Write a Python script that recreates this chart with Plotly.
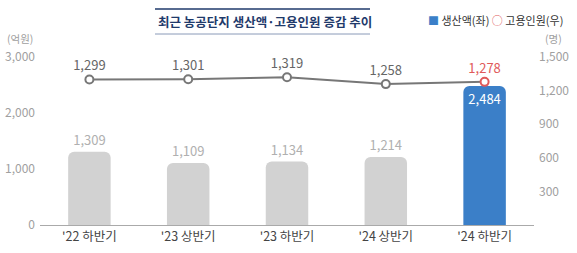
import plotly.graph_objects as go

categories = ["'22 하반기", "'23 상반기", "'23 하반기", "'24 상반기", "'24 하반기"]
production = [1309, 1109, 1134, 1214, 2484]   # 생산액 (억원)
employment = [1299, 1301, 1319, 1258, 1278]   # 고용인원 (명)

bar_colors = ["#d2d2d2"] * 4 + ["#3b7fc8"]
bar_text_pos = ["outside"] * 4 + ["inside"]
bar_text_col = ["#b0b0b0"] * 4 + ["#ffffff"]
mk_line_col = ["#777777"] * 4 + ["#e05a5a"]
line_text_col = ["#666666"] * 4 + ["#e05a5a"]

FONT = "Noto Sans CJK KR"
L, R, T, B = 40, 43, 57, 28
W, H = 577, 253
PW, PH = W - L - R, H - T - B

fig = go.Figure()
fig.add_trace(go.Bar(
    x=categories, y=production, width=0.43,
    marker=dict(color=bar_colors, line=dict(width=0)),
    text=[f"{v:,}" for v in production], textposition=bar_text_pos,
    insidetextanchor="end",
    textfont=dict(color=bar_text_col, size=13, family=FONT),
    cliponaxis=False, showlegend=False,
))
fig.add_trace(go.Scatter(
    x=categories, y=employment, yaxis="y2", mode="lines+markers+text",
    line=dict(color="#777777", width=2),
    marker=dict(symbol="circle", size=8, color="white",
                line=dict(color=mk_line_col, width=2)),
    text=[f"{v:,}" for v in employment], textposition="top center",
    textfont=dict(color=line_text_col, size=13, family=FONT),
    cliponaxis=False, showlegend=False,
))

fig.update_layout(
    width=W, height=H,
    margin=dict(l=L, r=R, t=T, b=B, autoexpand=False),
    paper_bgcolor="white", plot_bgcolor="white",
    font=dict(family=FONT, color="#999999", size=12),
    barcornerradius=6,
    xaxis=dict(showgrid=False, showline=True, linecolor="#aaaaaa", linewidth=1,
               ticks="", automargin=False,
               tickfont=dict(color="#444444", size=12.5, family=FONT)),
    yaxis=dict(range=[0, 3000], tickvals=[0, 1000, 2000, 3000],
               ticktext=["0", "1,000", "2,000", "3,000"], showgrid=False,
               zeroline=False, automargin=False,
               tickfont=dict(color="#a0a0a0", size=12), ticklabelstandoff=4),
    yaxis2=dict(range=[0, 1500], overlaying="y", side="right",
                tickvals=[300, 600, 900, 1200, 1500],
                ticktext=["300", "600", "900", "1,200", "1,500"], showgrid=False,
                zeroline=False, automargin=False,
                tickfont=dict(color="#a0a0a0", size=12), ticklabelstandoff=4),
    bargap=0.5,
)


def px(x):
    return (x - L) / PW


def py(y):
    return (H - B - y) / PH


annotations = [
    dict(text="<b>최근 농공단지 생산액·고용인원 증감 추이</b>", x=265, y=21,
         font=dict(size=12.5, color="#1f3a6b", family=FONT)),
    dict(text="(억원)", x=20, y=39, font=dict(size=10.5, color="#a0a0a0", family=FONT)),
    dict(text="(명)", x=553, y=39, font=dict(size=10.5, color="#a0a0a0", family=FONT)),
    dict(text="<span style='color:#3b7fc8'>■</span> 생산액(좌) <span style='color:#e05a5a'>○</span> 고용인원(우)",
         x=495, y=20, font=dict(size=11, color="#333333", family=FONT)),
]
for a in annotations:
    fig.add_annotation(xref="paper", yref="paper", showarrow=False,
                       x=px(a["x"]), y=py(a["y"]),
                       text=a["text"], font=a["font"], xanchor="center", yanchor="middle")

for yy, col, wd in [(9, "#1f3a6b", 1.5), (34, "#8a9ab8", 1)]:
    fig.add_shape(type="line", xref="paper", yref="paper",
                  x0=px(155), x1=px(370), y0=py(yy), y1=py(yy),
                  line=dict(color=col, width=wd))

fig.write_html("out.html")
